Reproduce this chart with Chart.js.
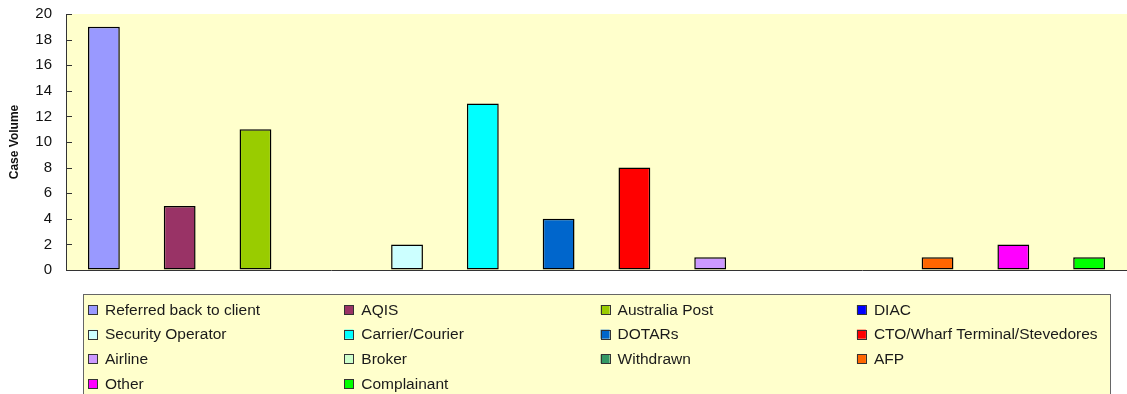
<!DOCTYPE html>
<html lang="en">
<head>
    <meta charset="UTF-8">
    <title>Case Volume by Outcome</title>
    <script src="https://cdn.jsdelivr.net/npm/chart.js"></script>
    <style>
        html, body {
            margin: 0;
            padding: 0;
            background: #ffffff;
        }
        .chart-wrap {
            position: relative;
            width: 1127px;
            height: 394px;
        }
    </style>
</head>
<body>
    <div class="chart-wrap">
        <canvas id="caseChart"></canvas>
    </div>

    <script>
        const categories = [
            'Referred back to client', 'AQIS', 'Australia Post', 'DIAC',
            'Security Operator', 'Carrier/Courier', 'DOTARs', 'CTO/Wharf Terminal/Stevedores',
            'Airline', 'Broker', 'Withdrawn', 'AFP',
            'Other', 'Complainant'
        ];
        const caseVolume = [19, 5, 11, 0, 2, 13, 4, 8, 1, 0, 0, 1, 2, 1];
        const barColors = [
            '#9999FF', '#993366', '#99CC00', '#0000FF',
            '#CCFFFF', '#00FFFF', '#0066CC', '#FF0000',
            '#CC99FF', '#CCFFCC', '#339966', '#FF6600',
            '#FF00FF', '#00FF00'
        ];
        const yTicks = [0, 2, 4, 6, 8, 10, 12, 14, 16, 18, 20];

        const FONT = '"Liberation Sans", Arial, sans-serif';
        const PANEL = '#FFFFCC';

        // pale panel behind the bars
        const plotBackground = {
            id: 'plotBackground',
            beforeDraw(chart) {
                const { ctx, chartArea: a } = chart;
                ctx.save();
                ctx.fillStyle = PANEL;
                ctx.fillRect(a.left, a.top, a.right - a.left, a.bottom - a.top);
                ctx.restore();
            }
        };

        // short tick marks pointing into the plot
        const innerTicks = {
            id: 'innerTicks',
            afterDraw(chart) {
                const { ctx } = chart;
                const y = chart.scales.y;
                ctx.save();
                ctx.strokeStyle = '#333333';
                ctx.lineWidth = 1;
                ctx.beginPath();
                yTicks.forEach(v => {
                    const py = Math.round(y.getPixelForValue(v)) + 0.5;
                    ctx.moveTo(y.right, py);
                    ctx.lineTo(y.right + 6, py);
                });
                ctx.stroke();
                ctx.restore();
            }
        };

        // boxed legend laid out in four fixed columns
        const gridLegend = {
            id: 'gridLegend',
            afterDraw(chart) {
                const { ctx } = chart;
                const left = 83.5, top = 294.5, right = 1110.5, bottom = 400;
                ctx.save();
                ctx.fillStyle = PANEL;
                ctx.fillRect(left, top, right - left, bottom - top);
                ctx.strokeStyle = '#666666';
                ctx.lineWidth = 1;
                ctx.strokeRect(left, top, right - left, bottom - top);

                ctx.font = '15.5px ' + FONT;
                ctx.textBaseline = 'middle';
                ctx.textAlign = 'left';
                const labels = chart.data.labels;
                const colors = chart.data.datasets[0].backgroundColor;
                labels.forEach((label, i) => {
                    const col = i % 4;
                    const row = Math.floor(i / 4);
                    const x = 88 + col * 256.3;
                    const cy = 309.5 + row * 24.7;
                    ctx.fillStyle = colors[i];
                    ctx.fillRect(x, cy - 4.5, 9, 9);
                    ctx.strokeStyle = '#333333';
                    ctx.strokeRect(Math.round(x) + 0.5, Math.round(cy - 4.5) + 0.5, 9, 9);
                    ctx.fillStyle = '#1a1a1a';
                    ctx.fillText(label, x + 17, cy + 1);
                });
                ctx.restore();
            }
        };

        new Chart(document.getElementById('caseChart').getContext('2d'), {
            type: 'bar',
            data: {
                labels: categories,
                datasets: [{
                    label: 'Case Volume',
                    data: caseVolume,
                    backgroundColor: barColors,
                    borderColor: '#000000',
                    borderWidth: ctx => (ctx.raw ? 1.5 : 0),
                    borderSkipped: false,
                    categoryPercentage: 1,
                    barPercentage: 0.42
                }]
            },
            options: {
                responsive: true,
                maintainAspectRatio: false,
                animation: false,
                layout: {
                    padding: { top: 14, right: 0, bottom: 124, left: 0 }
                },
                plugins: {
                    legend: { display: false },
                    tooltip: { enabled: false }
                },
                scales: {
                    x: {
                        grid: { display: true, drawOnChartArea: false, drawTicks: false },
                        border: { display: true, color: '#333333', width: 1 },
                        ticks: { display: false },
                        afterFit(scale) { scale.height = 0; }
                    },
                    y: {
                        min: 0,
                        max: 20,
                        grid: { display: true, drawOnChartArea: false, drawTicks: false },
                        border: { display: true, color: '#333333', width: 1 },
                        ticks: {
                            stepSize: 2,
                            padding: 14,
                            color: '#111111',
                            font: { family: FONT, size: 15 }
                        },
                        title: {
                            display: true,
                            text: 'Case Volume',
                            color: '#111111',
                            font: { family: FONT, size: 12, weight: 'bold' },
                            padding: { top: 7, bottom: 4 }
                        },
                        afterFit(scale) {
                            scale.width = 66;
                            scale.paddingTop = 0;
                        }
                    }
                }
            },
            plugins: [plotBackground, innerTicks, gridLegend]
        });
    </script>
</body>
</html>
